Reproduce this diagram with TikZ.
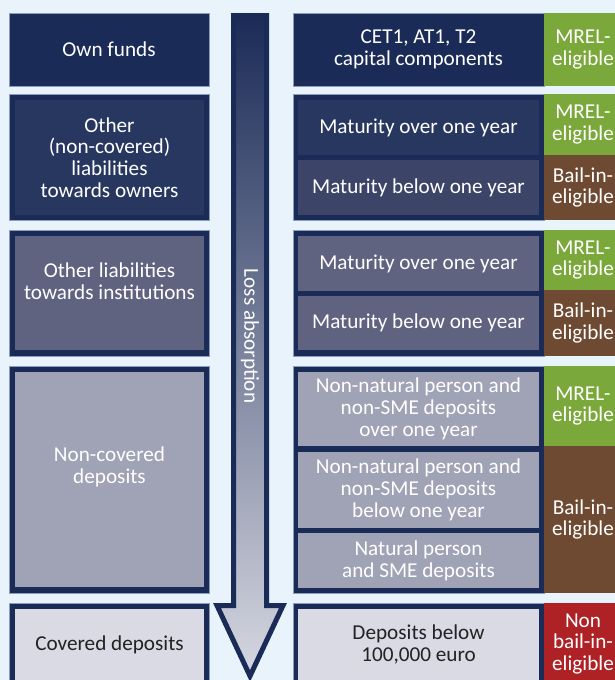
\documentclass[tikz,border=0pt]{standalone}
\usepackage{fontspec}
\setmainfont{Carlito}

\definecolor{paper}{HTML}{E8F3FB}
\definecolor{navy}{HTML}{1B2B57}
\definecolor{rim}{HTML}{8D9CBB}
\definecolor{tierA}{HTML}{27375F}
\definecolor{tierB}{HTML}{3C4468}
\definecolor{tierC}{HTML}{5F6380}
\definecolor{tierD}{HTML}{A0A2B5}
\definecolor{tierE}{HTML}{D9DAE3}
\definecolor{mrel}{HTML}{7BA83B}
\definecolor{bailin}{HTML}{6F4A32}
\definecolor{nonbail}{HTML}{AE2226}
\definecolor{ink}{HTML}{222222}

\tikzset{
  frame/.style={draw=rim,line width=0.8pt,fill=navy,anchor=north west,inner sep=0pt,outer sep=0pt,text=white,align=center},
  cell/.style={anchor=north west,inner sep=0pt,outer sep=0pt,text=white,align=center},
  tag/.style={anchor=north west,inner sep=0pt,outer sep=0pt,minimum width=78pt,text=white,align=center},
  arrowbody/.style={draw=navy,line width=5pt,line join=miter,top color=navy,middle color=tierC!90!white,bottom color=tierE!95!tierD}
}

\begin{document}
\begin{tikzpicture}[x=1pt,y=-1pt,every node/.style={font=\fontsize{21.2}{21.7}\selectfont}]
\useasboundingbox (0,0) rectangle (615,680);
\clip (0,0) rectangle (615,680);
\fill[paper] (0,0) rectangle (615,680);

% left column
\node[frame,minimum width=200pt,minimum height=73pt] (own) at (9,13) {Own funds};
\node[frame,minimum width=200pt,minimum height=126pt] (owners) at (9,94) {};
\node[cell,fill=tierA,minimum width=189pt,minimum height=115pt] (ownersIn) at (15,100) {Other\\(non-covered)\\liabilities\\towards owners};
\node[frame,minimum width=200pt,minimum height=126pt] (inst) at (9,230) {};
\node[cell,fill=tierC,minimum width=189pt,minimum height=114pt] (instIn) at (15,236) {};
\node[text=white,align=center] (instT) at (109.5,281) {Other liabilities\\towards institutions};
\node[frame,minimum width=200pt,minimum height=227pt] (noncov) at (9,366) {};
\node[cell,fill=tierD,minimum width=189pt,minimum height=215pt] (noncovIn) at (15,372) {};
\node[text=white,align=center] (noncovT) at (109.5,467) {Non-covered\\deposits};
\node[frame,minimum width=200pt,minimum height=82pt] (cov) at (9,603) {};
\node[cell,fill=tierE,text=ink,minimum width=189pt,minimum height=71pt] (covIn) at (15,609) {Covered deposits};

% loss absorption arrow
\draw[arrowbody] (233.5,15.5) -- (266.5,15.5) -- (266.5,605.5) -- (283,605.5)
  -- (250,676) -- (217,605.5) -- (233.5,605.5) -- cycle;
\node[rotate=-90,text=white] (loss) at (250,336) {Loss absorption};

% right column
\node[frame,minimum width=251pt,minimum height=73pt] (capital) at (293,13) {CET1, AT1, T2\\capital components};
\node[frame,minimum width=251pt,minimum height=126pt] (ownersR) at (293,94) {};
\node[cell,fill=tierA,minimum width=241pt,minimum height=55pt] (ownOver) at (298,100) {Maturity over one year};
\node[cell,fill=tierB,minimum width=241pt,minimum height=55pt] (ownBelow) at (298,160) {Maturity below one year};
\node[frame,minimum width=251pt,minimum height=126pt] (instR) at (293,230) {};
\node[cell,fill=tierC,minimum width=241pt,minimum height=55pt] (instOver) at (298,236) {Maturity over one year};
\node[cell,fill=tierC,minimum width=241pt,minimum height=54pt] (instBelow) at (298,296) {Maturity below one year};
\node[frame,minimum width=251pt,minimum height=227pt] (noncovR) at (293,366) {};
\node[cell,fill=tierD,minimum width=241pt,minimum height=74pt] (depOver) at (298,372) {Non-natural person and\\non-SME deposits\\over one year};
\node[cell,fill=tierD,minimum width=241pt,minimum height=76pt] (depBelow) at (298,452) {Non-natural person and\\non-SME deposits\\below one year};
\node[cell,fill=tierD,minimum width=241pt,minimum height=55pt] (depNat) at (298,533) {Natural person\\and SME deposits};
\node[frame,minimum width=251pt,minimum height=82pt] (covR) at (293,603) {};
\node[cell,fill=tierE,text=ink,minimum width=241pt,minimum height=71pt] (covSmall) at (298,609) {Deposits below\\100,000 euro};

% eligibility tags
\node[tag,fill=mrel,minimum height=73pt] (tagCap) at (544,13) {MREL-\\eligible};
\node[tag,fill=mrel,minimum height=61pt] (tagOwnOver) at (544,94) {MREL-\\eligible};
\node[tag,fill=bailin,minimum height=65pt] (tagOwnBelow) at (544,155) {Bail-in-\\eligible};
\node[tag,fill=mrel,minimum height=60pt] (tagInstOver) at (544,230) {MREL-\\eligible};
\node[tag,fill=bailin,minimum height=66pt] (tagInstBelow) at (544,290) {Bail-in-\\eligible};
\node[tag,fill=mrel,minimum height=80pt] (tagDepOver) at (544,366) {MREL-\\eligible};
\node[tag,fill=bailin,minimum height=147pt] (tagDepRest) at (544,446) {Bail-in-\\eligible};
\node[tag,fill=nonbail,minimum height=82pt] (tagCov) at (544,603) {Non\\bail-in-\\eligible};
\end{tikzpicture}
\end{document}
